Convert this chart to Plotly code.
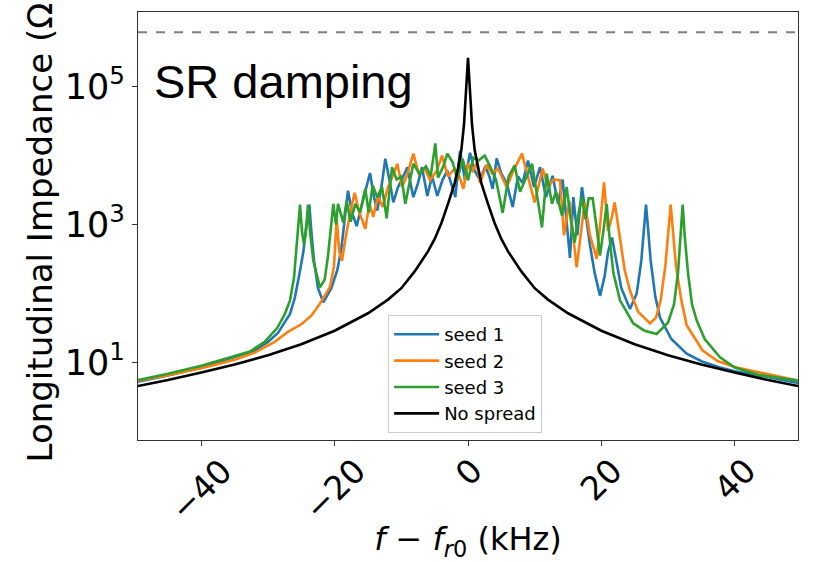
import plotly.graph_objects as go

# ---------------- data ----------------
x_range = [-49.5, 49.5]
y_log_range = [-0.12, 6.08]
threshold = 6.1e5

x_ticks = [-40, -20, 0, 20, 40]
x_tick_labels = ["\u221240", "\u221220", "0", "20", "40"]
y_ticks = [10, 1000, 100000]
y_tick_labels = ["10<sup>1</sup>", "10<sup>3</sup>", "10<sup>5</sup>"]

black_f = [-49.5, -45, -40, -35, -30, -25, -20, -15, -12, -10, -8, -6, -5, -4, -3, -2, -1.5, -1, -0.6, -0.3,
           0, 0.3, 0.6, 1, 1.5, 2, 3, 4, 5, 6, 8, 10, 12, 15, 20, 25, 30, 35, 40, 45, 49.5]
black_z = [4.6, 5.6, 7.2, 9.4, 12.8, 18.5, 29, 52, 82, 120, 210, 410, 620, 1050, 2000, 4000, 6500, 12000, 28000, 85000,
           260000, 85000, 28000, 12000, 6500, 4000, 2000, 1050, 620, 410, 210, 120, 82, 52, 29, 18.5, 12.8, 9.4, 7.2, 5.6, 4.6]

seed1_f = [-49.5, -45, -40, -35, -32, -30, -28.5, -26.7, -26, -25.3, -24.7, -24.3, -23.8, -23.5, -23.1, -22.5, -21.7,
           -20.5, -19.6, -19.0, -18.5, -18.0, -17.4, -16.7, -16.0, -15.2, -14.7, -14.1, -13.6, -12.9, -12.4, -11.8,
           -11.2, -10.5, -9.9, -9.1, -8.2, -7.5, -6.9, -6.1, -5.4, -4.6, -3.8, -3.1, -2.5, -1.9, -1.2, -0.45, 0.3,
           1.0, 1.8, 2.6, 3.2, 3.7, 4.3, 5.0, 5.8, 6.7, 7.5, 8.2, 9.0, 9.9, 10.8, 11.7, 12.7, 13.5, 14.2, 14.8, 15.3,
           15.8, 16.4, 17.1, 17.6, 18.3, 19.0, 19.8, 20.5, 21.0, 21.6, 22.2, 23.0, 24.3, 25.3, 26.0, 26.4, 26.7,
           27.0, 27.4, 28.1, 28.8, 30.5, 32.8, 35, 37.8, 40, 43.8, 49.5]
seed1_z = [5.3, 6.5, 8.5, 12, 15, 20, 27, 51, 85, 190, 400, 900, 1950, 800, 300, 120, 75,
           120, 220, 450, 1200, 3100, 1500, 950, 1800, 3500, 5600, 2500, 1600, 4000, 9000, 4500,
           2100, 3500, 4500, 6800, 2500, 4000, 6800, 2600, 5000, 2600, 4500, 6000, 4000, 2500, 11700, 4400, 11000,
           6000, 4400, 7000, 5000, 3300, 9100, 5500, 4000, 1800, 5000, 4000, 8500, 3500, 6800, 2500, 5100, 2000, 4500, 1200, 330,
           2500, 700, 3500, 1500, 500, 200, 93, 180, 400, 650, 300, 120, 60, 100, 300, 900, 1950,
           900, 300, 90, 45, 22, 13.5, 10.5, 8.5, 7.5, 6.5, 5.1]

seed2_f = [-49.5, -45, -40, -35, -32, -29, -27, -25, -23.5, -22.2, -20.7, -20.1, -19.7, -19.3, -18.9, -18.3, -17.6,
           -17.0, -16.3, -15.4, -14.8, -14.2, -13.5, -12.8, -12.0, -11.3, -10.6, -9.9, -9.2, -8.2, -7.4, -6.5, -5.7,
           -4.7, -3.9, -3.0, -2.0, -1.3, -0.7, 0, 0.7, 1.3, 1.8, 2.8, 3.6, 4.5, 5.8, 6.8, 8.1, 9.0, 10.0, 11.2, 12.0,
           12.8, 13.8, 14.4, 15.2, 16.3, 17.0, 17.5, 18.3, 19.3, 19.9, 20.4, 21.0, 21.5, 22.0, 22.8, 23.5, 24.3, 25.5,
           27.3, 28.2, 28.9, 29.6, 30.0, 30.4, 30.8, 31.2, 32.0, 32.8, 35.2, 37.5, 40.3, 45, 49.5]
seed2_z = [5.5, 6.6, 8.3, 11, 14, 20, 28, 36, 48, 72, 125, 250, 1200, 400, 300, 700, 1600,
           2900, 1500, 870, 2000, 1300, 2600, 1800, 3500, 5000, 7600, 3500, 5000, 10700, 5500, 6500, 4400,
           6000, 10000, 5000, 6500, 5000, 3300, 7600, 6000, 7800, 4000, 7400, 5500, 6500, 3500, 6000, 10700, 5000, 2100, 6500, 3500,
           4500, 4400, 700, 2200, 240, 900, 2100, 700, 320, 1200, 4100, 810, 1200, 2100, 600, 220, 110, 55,
           37, 45, 80, 250, 700, 1950, 700, 250, 80, 35, 15, 10.5, 8.5, 6.8, 5.5]

seed3_f = [-49.5, -45, -40, -35, -32.7, -30.5, -28.6, -27.5, -26.7, -26.1, -25.7, -25.2, -24.9, -24.6, -24.3, -24.0,
           -23.7, -23.2, -22.2, -21.5, -21.0, -20.6, -20.2, -19.8, -19.5, -18.7, -18.2, -17.6, -16.9, -16.2, -15.4,
           -14.9, -14.3, -13.6, -12.9, -12.2, -11.4, -10.7, -10.0, -9.4, -8.2, -7.3, -6.3, -5.6, -4.9, -4.5, -3.7,
           -3.1, -2.3, -1.6, -0.8, 0, 0.8, 1.6, 2.5, 3.3, 4.2, 5.2, 6.1, 7.0, 7.8, 8.8, 9.6, 10.4, 11.1, 11.8, 12.6,
           13.2, 14.1, 14.8, 15.4, 16.0, 16.6, 17.1, 17.6, 18.1, 18.7, 19.3, 19.8, 20.3, 20.8, 21.2, 21.8, 22.8,
           24.8, 26.5, 28.3, 30.0, 30.9, 31.5, 31.9, 32.2, 32.5, 33.0, 33.6, 34.3, 35.5, 37.8, 40, 43.8, 49.5]
seed3_z = [5.6, 6.9, 9, 12.5, 14.5, 20, 32, 50, 80, 170, 450, 1950, 800, 520, 800, 1950,
           800, 300, 123, 160, 350, 800, 2000, 1000, 2000, 1070, 2200, 1100, 2000, 1500, 3300,
           1500, 3700, 2500, 3500, 1230, 6800, 4500, 5000, 2000, 7600, 5500, 7000, 5000, 15000, 4800, 7000,
           10700, 8000, 4500, 9000, 4400, 9300, 8500, 10000, 7000, 4500, 1480, 5000, 7200, 3000, 5000, 7600, 2500, 910, 5500, 2000,
           3000, 1350, 3500, 1200, 550, 1500, 2500, 1200, 2400, 2400, 900, 355, 800, 2000, 700, 200, 80,
           37, 29, 26, 38, 70, 200, 700, 1950, 700, 200, 70, 41, 22, 12, 8.5, 6.6, 5.5]

series = [
    ("seed 1", seed1_f, seed1_z, "#1f77b4"),
    ("seed 2", seed2_f, seed2_z, "#ff7f0e"),
    ("seed 3", seed3_f, seed3_z, "#2ca02c"),
    ("No spread", black_f, black_z, "#000000"),
]

# ---------------- figure ----------------
fig = go.Figure()
fig.add_trace(go.Scatter(x=x_range, y=[threshold, threshold], mode="lines",
                         line=dict(color="#808080", width=2, dash="dash"), showlegend=False, hoverinfo="skip"))
for name, f, z, col in series:
    fig.add_trace(go.Scatter(x=f, y=z, mode="lines", name=name, line=dict(color=col, width=2.6)))

axis_common = dict(showline=True, mirror=True, linecolor="#333333", linewidth=1.3, showgrid=False, zeroline=False,
                   ticks="outside", ticklen=5, tickwidth=1.2, tickcolor="#333333", automargin=False)

fig.update_layout(
    width=813, height=562,
    margin=dict(l=138, r=15, t=12, b=122),
    paper_bgcolor="white", plot_bgcolor="white",
    font=dict(family="DejaVu Sans", size=34, color="black"),
    xaxis=dict(range=x_range, tickvals=x_ticks, showticklabels=False,
               title=dict(text="<i>f</i> \u2212 <i>f</i><sub><i>r</i>0</sub> (kHz)", standoff=94,
                          font=dict(size=32)), **axis_common),
    yaxis=dict(type="log", range=y_log_range, tickvals=y_ticks, ticktext=y_tick_labels,
               tickfont=dict(size=35), title=dict(text="Longitudinal Impedance (\u03a9)", standoff=1,
                                                  font=dict(size=34)), **axis_common),
    legend=dict(x=0.379, y=0.292, xanchor="left", yanchor="top", bgcolor="rgba(255,255,255,0.8)",
                bordercolor="#cccccc", borderwidth=1, font=dict(size=18), tracegroupgap=0, itemwidth=45),
    showlegend=True,
)

for v, lab in zip(x_ticks, x_tick_labels):
    fig.add_annotation(x=v, xref="x", y=0, yref="paper", yshift=-8, text=lab, showarrow=False,
                       textangle=-45, xanchor="center", yanchor="top", font=dict(size=33))

fig.add_annotation(x=0.021, xref="paper", y=0.905, yref="paper", text="SR damping", showarrow=False,
                   xanchor="left", yanchor="top", font=dict(family="Liberation Sans, Arial", size=47, color="black"))

fig.write_html("out.html")
